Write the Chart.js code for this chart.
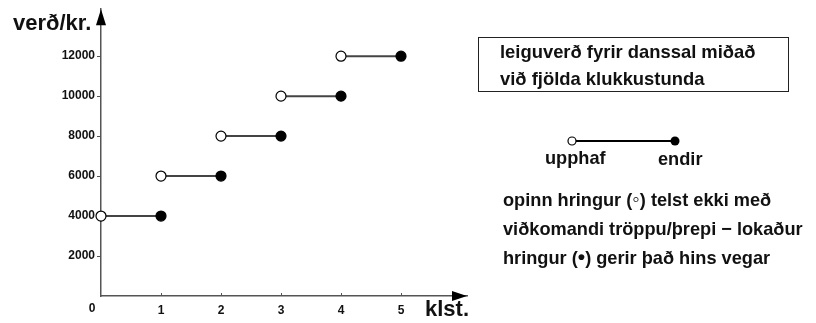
<!DOCTYPE html>
<html>
<head>
<meta charset="utf-8">
<script src="https://cdn.jsdelivr.net/npm/chart.js@4.4.1/dist/chart.umd.min.js"></script>
<style>
  html, body { margin: 0; padding: 0; background: #fff; }
  #wrap {
    position: relative; width: 816px; height: 323px;
    font-family: "Liberation Sans", Arial, sans-serif; font-weight: bold; color: #111;
  }
  #wrap canvas { position: absolute; left: 0; top: 0; }
  .lbl { position: absolute; white-space: nowrap; }
  .axis-title { font-size: 22px; line-height: 22px; }
  #title-box {
    position: absolute; left: 478px; top: 37px; width: 288px; height: 53px;
    border: 1.5px solid #222; padding: 0 0 0 21px;
    font-size: 18.4px; line-height: 27px;
  }
  .note { font-size: 18.2px; line-height: 29px; }
  .sym { font-size: 21px; line-height: 0; }
</style>
</head>
<body>
<div id="wrap">
  <canvas id="chart-steps" width="816" height="323"></canvas>
  <div class="lbl axis-title" style="left:13px; top:12px;">verð/kr.</div>
  <div class="lbl axis-title" style="left:425px; top:298px;">klst.</div>
  <div id="title-box">leiguverð fyrir danssal miðað<br>við fjölda klukkustunda</div>
  <div class="lbl note" style="left:545px; top:144px;">upphaf</div>
  <div class="lbl note" style="left:658px; top:145px;">endir</div>
  <div class="lbl note" style="left:503px; top:186px;">opinn hringur (<span class="sym">◦</span>) telst ekki með<br>viðkomandi tröppu/þrepi − lokaður<br>hringur (<span class="sym">•</span>) gerir það hins vegar</div>
</div>
<script>
// ── Data ───────────────────────────────────────────────────
const HOURS_START = [0, 1, 2, 3, 4];
const HOURS_END   = [1, 2, 3, 4, 5];
const PRICES      = [4000, 6000, 8000, 10000, 12000];
const X_TICKS     = [0, 1, 2, 3, 4, 5];
const Y_TICKS     = [2000, 4000, 6000, 8000, 10000, 12000];

const FONT = "'Liberation Sans', Arial, sans-serif";
const AXIS = '#555';

// ── Arrows, inner x ticks, origin label, legend sample ─────
const decorations = {
  id: 'decorations',
  afterDraw(chart) {
    const { ctx, chartArea: a, scales } = chart;
    ctx.save();
    ctx.fillStyle = '#000';
    // y arrow
    ctx.beginPath();
    ctx.moveTo(a.left, a.top);
    ctx.lineTo(a.left - 5, a.top + 16);
    ctx.lineTo(a.left + 5, a.top + 16);
    ctx.closePath();
    ctx.fill();
    // x arrow
    ctx.beginPath();
    ctx.moveTo(a.right, a.bottom);
    ctx.lineTo(a.right - 15, a.bottom - 5);
    ctx.lineTo(a.right - 15, a.bottom + 5);
    ctx.closePath();
    ctx.fill();
    // x tick marks point up into the plot
    ctx.strokeStyle = AXIS;
    ctx.lineWidth = 1;
    X_TICKS.filter(v => v > 0).forEach(v => {
      const px = Math.round(scales.x.getPixelForValue(v)) + 0.5;
      ctx.beginPath();
      ctx.moveTo(px, a.bottom);
      ctx.lineTo(px, a.bottom - 3);
      ctx.stroke();
    });
    // origin label
    ctx.font = `bold 12px ${FONT}`;
    ctx.fillStyle = '#111';
    ctx.textAlign = 'center';
    ctx.textBaseline = 'middle';
    ctx.fillText('0', scales.x.getPixelForValue(0) - 9, a.bottom + 13);
    // legend sample: open start, closed end
    ctx.strokeStyle = '#000';
    ctx.lineWidth = 2;
    ctx.beginPath();
    ctx.moveTo(572, 141);
    ctx.lineTo(675, 141);
    ctx.stroke();
    ctx.lineWidth = 1.2;
    ctx.fillStyle = '#fff';
    ctx.beginPath();
    ctx.arc(572, 141, 4, 0, Math.PI * 2);
    ctx.fill();
    ctx.stroke();
    ctx.fillStyle = '#000';
    ctx.beginPath();
    ctx.arc(675, 141, 4.5, 0, Math.PI * 2);
    ctx.fill();
    ctx.restore();
  },
};

// ── Chart ──────────────────────────────────────────────────
new Chart(document.getElementById('chart-steps'), {
  type: 'scatter',
  data: {
    datasets: PRICES.map((p, i) => ({
      data: [{ x: HOURS_START[i], y: p }, { x: HOURS_END[i], y: p }],
      showLine: true,
      borderColor: '#444',
      borderWidth: 2,
      pointRadius: 5,
      pointBackgroundColor: ['#fff', '#000'],
      pointBorderColor: '#000',
      pointBorderWidth: 1.2,
      clip: false,
    })),
  },
  plugins: [decorations],
  options: {
    responsive: false,
    animation: false,
    events: [],
    layout: { padding: { left: 0, top: 9, right: 349, bottom: 0 } },
    plugins: { legend: { display: false }, tooltip: { enabled: false } },
    scales: {
      x: {
        type: 'linear',
        min: 0,
        max: 6.1,
        afterBuildTicks: s => { s.ticks = X_TICKS.map(v => ({ value: v })); },
        afterFit: s => { s.height = 27; },
        grid: { drawOnChartArea: false, drawTicks: false },
        border: { color: AXIS, width: 1.5 },
        ticks: {
          padding: 7,
          color: '#111',
          font: { family: FONT, size: 12, weight: 'bold' },
          callback: v => (v === 0 ? '' : String(v)),
        },
      },
      y: {
        type: 'linear',
        min: 0,
        max: 14350,
        afterBuildTicks: s => { s.ticks = Y_TICKS.map(v => ({ value: v })); },
        afterFit: s => { s.width = 101; },
        grid: { drawOnChartArea: false, tickLength: 4, color: AXIS },
        border: { color: AXIS, width: 1.5 },
        ticks: {
          padding: 2,
          color: '#111',
          font: { family: FONT, size: 12, weight: 'bold' },
          callback: v => String(v),
        },
      },
    },
  },
});
</script>
</body>
</html>
